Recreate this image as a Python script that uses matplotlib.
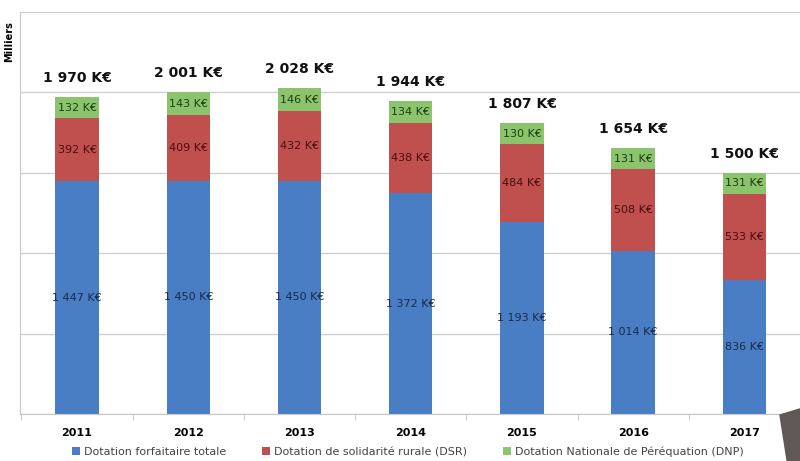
import matplotlib
matplotlib.use("Agg")
import matplotlib.pyplot as plt
from matplotlib.patches import Polygon
import numpy as np

years = ["2011", "2012", "2013", "2014", "2015", "2016", "2017"]
dft = [1447, 1450, 1450, 1372, 1193, 1014, 836]
dsr = [392, 409, 432, 438, 484, 508, 533]
dnp = [132, 143, 146, 134, 130, 131, 131]
totals = [1970, 2001, 2028, 1944, 1807, 1654, 1500]

def fmt(v):
    s = f"{v:,}".replace(",", " ")
    return s + " K€"

fig = plt.figure(figsize=(8, 4.61), dpi=100)
ax = fig.add_axes([0.025, 0.102, 0.975, 0.872])
x = np.arange(len(years))
w = 0.39
c_blue, c_red, c_green = "#4a7ec4", "#c0504d", "#8cc46e"
b1 = ax.bar(x, dft, w, color=c_blue, zorder=2, label="Dotation forfaitaire totale")
b2 = ax.bar(x, dsr, w, bottom=dft, color=c_red, zorder=2, label="Dotation de solidarité rurale (DSR)")
bot3 = np.array(dft) + np.array(dsr)
b3 = ax.bar(x, dnp, w, bottom=bot3, color=c_green, zorder=2, label="Dotation Nationale de Péréquation (DNP)")

for i in range(len(years)):
    ax.text(x[i], dft[i] / 2, fmt(dft[i]), ha="center", va="center", fontsize=8, color="#1a2a4a", zorder=3)
    ax.text(x[i], dft[i] + dsr[i] / 2, fmt(dsr[i]), ha="center", va="center", fontsize=8, color="#4a0e0e", zorder=3)
    ax.text(x[i], bot3[i] + dnp[i] / 2, fmt(dnp[i]), ha="center", va="center", fontsize=8, color="#1f3d14", zorder=3)
    ax.text(x[i], totals[i] + 75, fmt(totals[i]), ha="center", va="bottom", fontsize=10, fontweight="bold", color="#111111", zorder=3)

ax.set_xlim(-0.513, 6.445)
ax.set_ylim(0, 2500)
ax.set_yticks(np.arange(0, 2501, 500))
ax.set_yticklabels([])
ax.tick_params(axis="y", length=0)
ax.yaxis.grid(True, color="#d0d0d0", linewidth=1, zorder=0)
ax.set_xticks(x)
ax.set_xticklabels(years, fontsize=8, fontweight="bold")
ax.set_xticks(np.arange(-0.5, 6.6, 1), minor=True)
ax.tick_params(axis="x", which="major", length=0, pad=10)
ax.tick_params(axis="x", which="minor", length=4, color="#c0c0c0")
for s in ["top", "right"]:
    ax.spines[s].set_visible(False)
ax.spines["left"].set_color("#c8c8c8")
ax.spines["bottom"].set_color("#c8c8c8")

fig.text(0.012, 0.91, "Milliers", rotation=90, fontsize=7, fontweight="bold", ha="center", va="center")

leg = fig.legend(handles=[b1, b2, b3], loc="center", bbox_to_anchor=(0.51, 0.02), ncol=3,
                 frameon=False, fontsize=8, handlelength=0.7, handleheight=0.7,
                 columnspacing=3.2, handletextpad=0.4, labelcolor="#444444")

poly = Polygon([[0.975, 0.0998], [1.0, 0.113], [1.0, 0.0], [0.984, 0.0]], closed=True,
               transform=fig.transFigure, color="#5f5856", zorder=10)
fig.patches.append(poly)

fig.savefig("out.png", dpi=100)
